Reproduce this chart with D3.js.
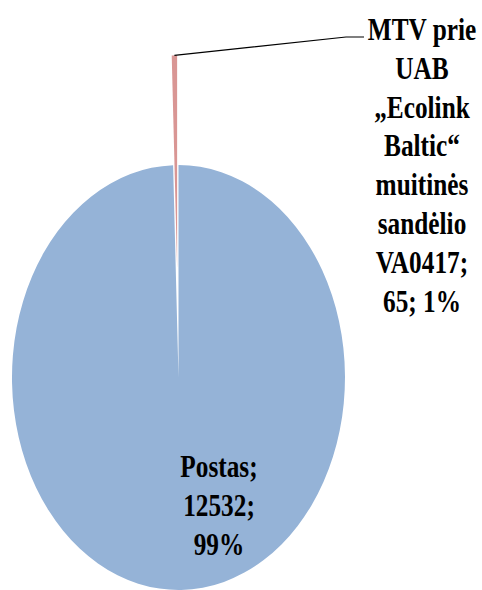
<!DOCTYPE html>
<html>
<head>
<meta charset="utf-8">
<script src="https://cdn.jsdelivr.net/npm/d3@7"></script>
<style>
  body { margin: 0; background: #fff; }
</style>
</head>
<body>
<div id="chart"></div>
<script>
// data
var categories = ["Postas", "MTV prie UAB „Ecolink Baltic“ muitinės sandėlio VA0417"];
var values = [12532, 65];
var colors = ["#95B3D7", "#D99694"];
var label_lines = [
   ["Postas;", "12532;", "99%"],
   ["MTV prie", "UAB", "„Ecolink", "Baltic“", "muitinės", "sandėlio", "VA0417;", "65; 1%"]
];

var width = 482, height = 590;
var sy = 1.276;              // picture is stretched vertically
var cx = 178.5, cy = 377.5 / sy, r = 166.5;
var explode = 86;

var svg = d3.select("#chart").append("svg").attr("width", width).attr("height", height);
var root = svg.append("g").attr("transform", "scale(1," + sy + ")");

var pie = d3.pie().sort(null).value(function(d) { return d; });
var arcs = pie(values);
var arc = d3.arc().innerRadius(0).outerRadius(r);

function mid(d) { return (d.startAngle + d.endAngle) / 2; }

root.append("g").attr("transform", "translate(" + cx + "," + cy + ")")
   .selectAll("path.slice").data(arcs).enter().append("path")
   .attr("class", "slice")
   .attr("d", arc)
   .attr("fill", function(d, i) { return colors[i]; })
   .attr("transform", function(d, i) {
      if (i == 0) return null;
      return "translate(" + (Math.sin(mid(d)) * explode) + "," + (-Math.cos(mid(d)) * explode) + ")";
   });

// leader line for the small slice (pixel coords)
var red = arcs[1];
var lx = cx + Math.sin(mid(red)) * (r + explode);
var ly = (cy - Math.cos(mid(red)) * (r + explode)) * sy;
svg.append("polyline")
   .attr("points", [[lx, ly], [346, 37], [364, 37]].map(function(p) { return p.join(","); }).join(" "))
   .attr("fill", "none").attr("stroke", "#000").attr("stroke-width", 1.2);

// labels
var fs = 25.3, lh = 38.8 / sy;
var label_pos = [[219, 477 / sy], [422, 40 / sy]];
label_lines.forEach(function(lines, i) {
   var t = root.append("text").attr("text-anchor", "middle")
      .attr("font-family", "'Liberation Serif', 'Times New Roman', serif")
      .attr("font-weight", "bold")
      .attr("font-size", fs).attr("fill", "#000");
   lines.forEach(function(s, j) {
      t.append("tspan").attr("x", label_pos[i][0]).attr("y", label_pos[i][1] + j * lh).text(s);
   });
});
</script>
</body>
</html>
